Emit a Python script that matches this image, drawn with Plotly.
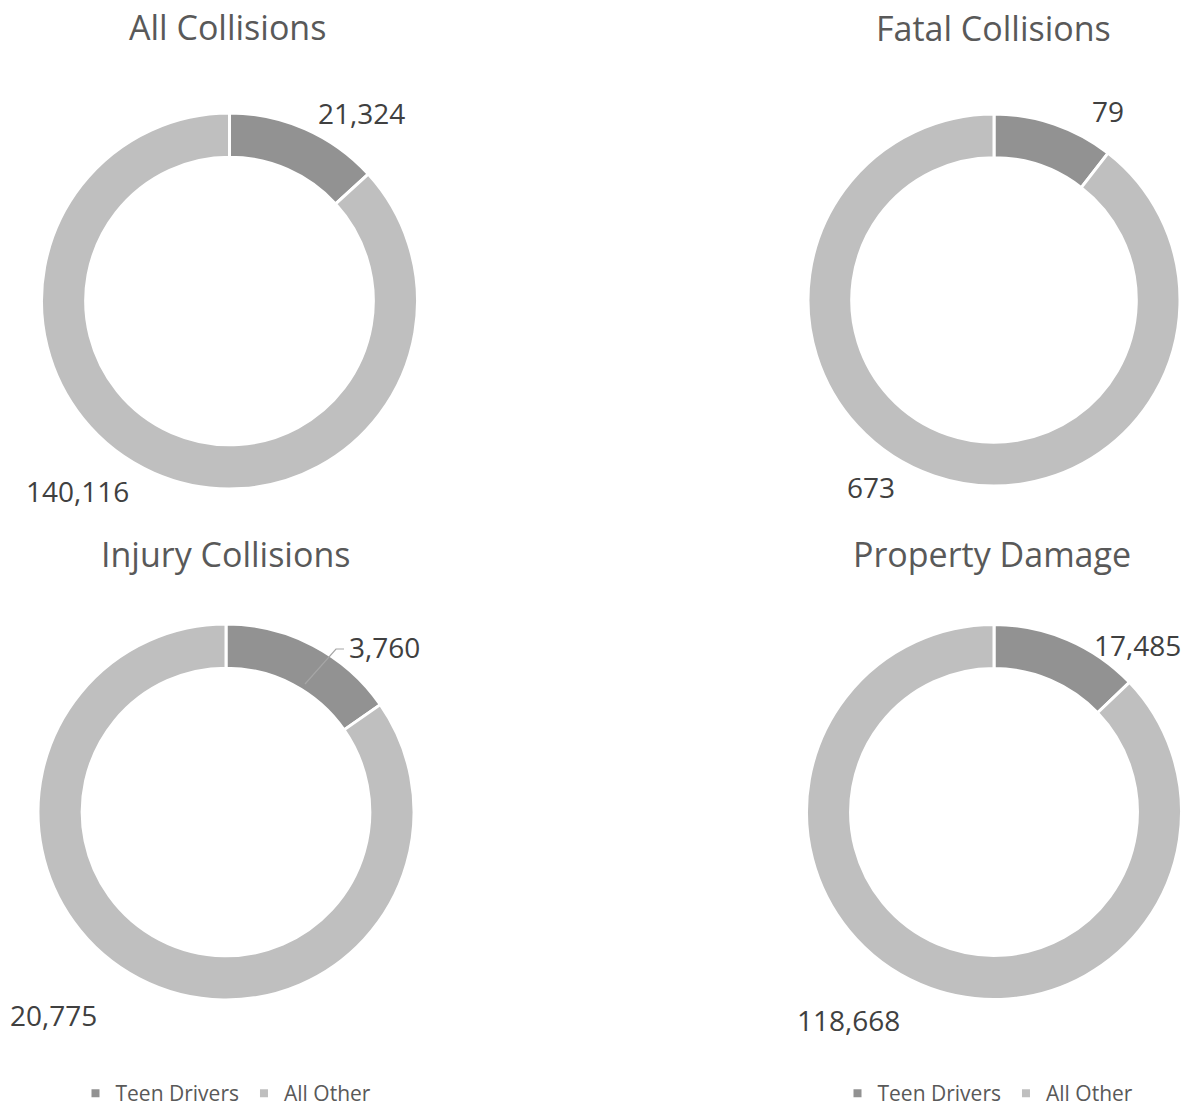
import plotly.graph_objects as go

W, H = 1184, 1105
H_FIG = 1114  # paper extends slightly below the window so the legend sits where it should

categories = ["Teen Drivers", "All Other"]
chart_titles = ["All Collisions", "Fatal Collisions", "Injury Collisions", "Property Damage"]
all_collisions = [21324, 140116]
fatal_collisions = [79, 673]
injury_collisions = [3760, 20775]
property_damage = [17485, 118668]
series = [all_collisions, fatal_collisions, injury_collisions, property_damage]

colors = ["#929292", "#bfbfbf"]

# layout (pixel geometry): center x, center y, radius
geom = [(229.5, 301, 188), (994, 300, 186), (226, 812, 188), (994, 812, 187.5)]
title_pos = [(227, 27), (993, 28), (225, 554), (992, 554)]
label_pos = [
    [(361, 113), (77, 491)],
    [(1108, 111), (871, 487)],
    [(384, 647), (53, 1015)],
    [(1137, 645), (848, 1020)],
]


def px(x):
    return x / W


def py(y):
    return 1 - y / H_FIG


fig = go.Figure()
for i, vals in enumerate(series):
    cx, cy, r = geom[i]
    fig.add_trace(go.Pie(
        labels=categories,
        values=vals,
        hole=0.765,
        sort=False,
        direction="clockwise",
        rotation=0,
        textinfo="none",
        hoverinfo="label+value",
        marker=dict(colors=colors, line=dict(color="white", width=3)),
        domain=dict(x=[px(cx - r), px(cx + r)], y=[py(cy + r), py(cy - r)]),
        showlegend=False,
    ))

# legend entries (one legend under each column)
for leg in ["legend", "legend2"]:
    for name, col in zip(categories, colors):
        fig.add_trace(go.Scatter(
            x=[None], y=[None], mode="markers", name=name,
            marker=dict(symbol="square", size=8, color=col),
            legend=leg, showlegend=True, hoverinfo="skip",
        ))

annotations = []
for i, t in enumerate(chart_titles):
    x, y = title_pos[i]
    annotations.append(dict(text=t, x=px(x), y=py(y), xref="paper", yref="paper",
                            xanchor="center", yanchor="middle", showarrow=False,
                            font=dict(family="Open Sans", size=34, color="#595959")))
for i, vals in enumerate(series):
    for j, v in enumerate(vals):
        x, y = label_pos[i][j]
        annotations.append(dict(text=f"{v:,}", x=px(x), y=py(y), xref="paper", yref="paper",
                                xanchor="center", yanchor="middle", showarrow=False,
                                font=dict(family="Open Sans", size=28, color="#404040")))

shapes = [
    dict(type="path", xref="paper", yref="paper",
         path=f"M {px(305)} {py(684)} L {px(336)} {py(649)} L {px(344)} {py(649)}",
         line=dict(color="#a6a6a6", width=1.2)),
]

leg_font = dict(family="Open Sans", size=21, color="#595959")
fig.update_layout(
    width=W, height=H_FIG,
    margin=dict(l=0, r=0, t=0, b=0),
    paper_bgcolor="white",
    plot_bgcolor="white",
    xaxis=dict(visible=False),
    yaxis=dict(visible=False),
    annotations=annotations,
    shapes=shapes,
    legend=dict(orientation="h", x=px(226), y=0, xanchor="center", yanchor="bottom",
                font=leg_font, itemwidth=30, bgcolor="rgba(0,0,0,0)"),
    legend2=dict(orientation="h", x=px(988), y=0, xanchor="center", yanchor="bottom",
                 font=leg_font, itemwidth=30, bgcolor="rgba(0,0,0,0)"),
)

fig.write_html(
    "out.html",
    config={"displayModeBar": False},
    post_script="document.body.style.margin='0';document.body.style.overflow='hidden';",
)
